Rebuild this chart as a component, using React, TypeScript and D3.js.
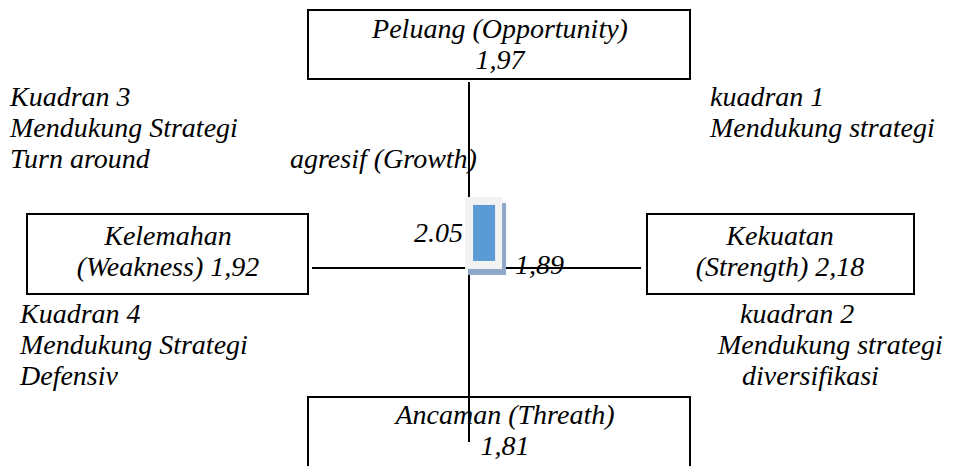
import { scaleLinear, format } from "d3";

// SWOT scores
const factorNames = ["Kekuatan", "Kelemahan", "Peluang", "Ancaman"];
const factorScores = [2.18, 1.92, 1.97, 1.81];
const axisValues = ["2.05", "1,89"];

const quadrantNotes = [
  ["Kuadran 3", "Mendukung Strategi", "Turn around"],
  ["kuadran 1", "Mendukung strategi"],
  ["Kuadran 4", "Mendukung Strategi", "Defensiv"],
  ["kuadran 2", "Mendukung strategi", "diversifikasi"],
];
const growthNote = "agresif (Growth)";

const W = 960;
const H = 466;

const comma = (v: number) => format(".2f")(v).replace(".", ",");

export default function App() {
  const [S, Wk, O, Th] = factorScores;
  const cx = 469;
  const cy = 268;
  // internal (S - W) on x, external (O - T) on y
  const x = scaleLinear().domain([0, 1]).range([cx, cx + 58]);
  const y = scaleLinear().domain([0, 1]).range([cy, cy - 219]);
  const px = x(S - Wk);
  const py = y(O - Th);

  const boxes = [
    { x0: 308, y0: 10, x1: 690, y1: 79, tx: 500, lines: [`${factorNames[2]} (Opportunity)`, comma(O)], b: [38, 69] },
    { x0: 27, y0: 214, x1: 308, y1: 294, tx: 168, lines: [factorNames[1], `(Weakness) ${comma(Wk)}`], b: [245, 276] },
    { x0: 647, y0: 214, x1: 914, y1: 294, tx: 780, lines: [factorNames[0], `(Strength) ${comma(S)}`], b: [245, 276] },
    { x0: 308, y0: 397, x1: 690, y1: 490, tx: 505, lines: [`${factorNames[3]} (Threath)`, comma(Th)], b: [424, 455] },
  ];

  const notePos = [
    { xs: [10, 10, 10], b: 106 },
    { xs: [710, 710], b: 106 },
    { xs: [20, 20, 20], b: 323 },
    { xs: [740, 718, 742], b: 323 },
  ];
  const lh = 31;

  const texts: { x: number; y: number; s: string; a: string }[] = [];
  boxes.forEach((bx) => bx.lines.forEach((l, j) => texts.push({ x: bx.tx, y: bx.b[j], s: l, a: "middle" })));
  quadrantNotes.forEach((q, i) =>
    q.forEach((l, j) => texts.push({ x: notePos[i].xs[j], y: notePos[i].b + j * lh, s: l, a: "start" }))
  );
  texts.push({ x: 290, y: 106 + 2 * lh, s: growthNote, a: "start" });
  texts.push({ x: 463, y: 242, s: axisValues[0], a: "end" });
  texts.push({ x: 515, y: 274, s: axisValues[1], a: "start" });

  return (
    <svg width={W} height={H} style={{ position: "absolute", left: 0, top: 0 }}>
      <rect width={W} height={H} fill="#fff" />
      {boxes.map((bx, i) => (
        <rect
          key={i}
          x={bx.x0}
          y={bx.y0}
          width={bx.x1 - bx.x0}
          height={bx.y1 - bx.y0}
          fill="#fff"
          stroke="#000"
          strokeWidth={2}
        />
      ))}

      {/* cross */}
      <line x1={cx} x2={cx} y1={82} y2={442} stroke="#000" strokeWidth={2} />
      <line x1={312} x2={641} y1={cy} y2={cy} stroke="#000" strokeWidth={2} />

      {texts.map((t, i) => (
        <text
          key={i}
          x={t.x}
          y={t.y}
          textAnchor={t.a}
          fontFamily="Times New Roman"
          fontSize={28}
          fontStyle="italic"
        >
          {t.s}
        </text>
      ))}

      {/* position marker */}
      <g transform={`translate(${px},${py})`}>
        <rect x={-16} y={-30} width={38} height={72} fill="#8ea9c8" />
        <rect x={-19} y={-36} width={37} height={72} fill="#f2f2f2" />
        <rect x={-11} y={-28} width={22} height={56} fill="#5b9bd5" />
      </g>
    </svg>
  );
}
